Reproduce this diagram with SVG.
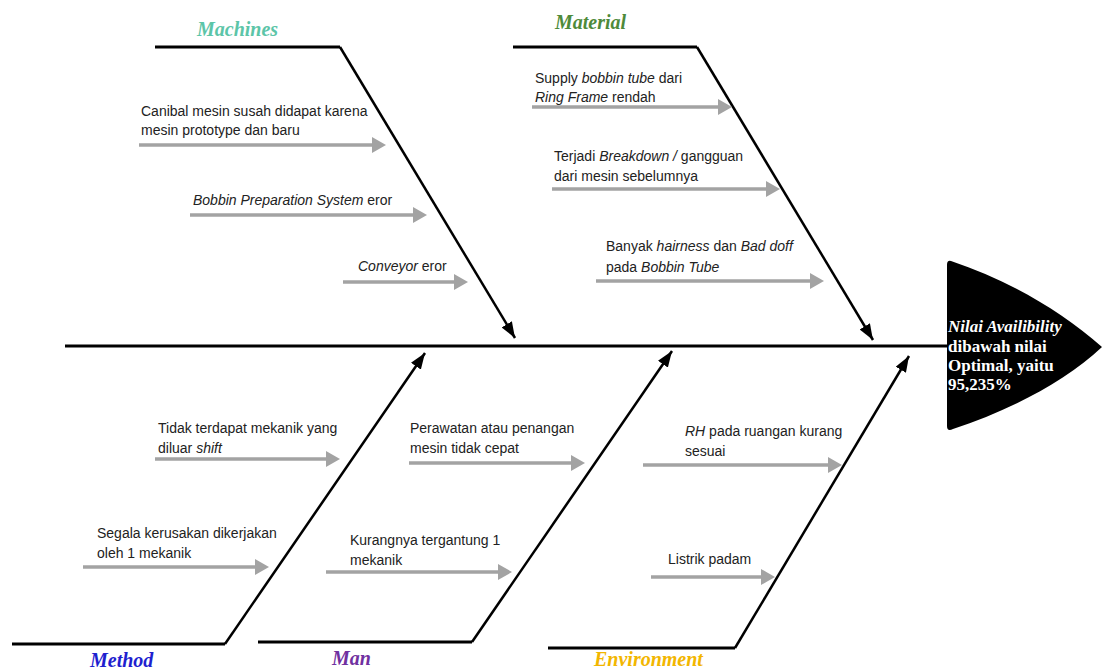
<svg xmlns="http://www.w3.org/2000/svg" width="1102" height="670" viewBox="0 0 1102 670">
<defs>
<style>
.t{font-family:"Liberation Sans",Arial,sans-serif;font-size:14px;fill:#222}
.i{font-style:italic}
.cat{font-family:"Liberation Serif","Times New Roman",serif;font-size:20px;font-weight:bold;font-style:italic}
.bone{stroke:#000;stroke-width:3;fill:none}
.rib{stroke:#000;stroke-width:2.5;fill:none;marker-end:url(#ah)}
.cause{stroke:#a3a3a3;stroke-width:3.5;fill:none;marker-end:url(#gh)}
.head{font-family:"Liberation Serif","Times New Roman",serif;font-size:17px;font-weight:bold;fill:#fff}
</style>
<marker id="ah" viewBox="0 0 16 12" refX="16" refY="6" markerWidth="16" markerHeight="12" markerUnits="userSpaceOnUse" orient="auto">
<path d="M0,0 L16,6 L0,12 z" fill="#000"/>
</marker>
<marker id="gh" viewBox="0 0 14 16" refX="10" refY="8" markerWidth="14" markerHeight="16" markerUnits="userSpaceOnUse" orient="auto">
<path d="M0,0 L14,8 L0,16 z" fill="#a3a3a3"/>
</marker>
</defs>
<rect width="1102" height="670" fill="#fff"/>

<g id="connectors">
<line class="bone" x1="65" y1="346" x2="948" y2="346"/>
<polyline class="bone" points="155,47 340,47"/>
<line class="rib" x1="340" y1="47" x2="515" y2="338"/>
<polyline class="bone" points="513,47 697,47"/>
<line class="rib" x1="697" y1="47" x2="873" y2="340"/>
<polyline class="bone" points="12,644 225,644"/>
<line class="rib" x1="225" y1="644" x2="425" y2="353"/>
<polyline class="bone" points="258,642 472,642"/>
<line class="rib" x1="472" y1="642" x2="672" y2="351"/>
<polyline class="bone" points="548,648 735,648"/>
<line class="rib" x1="735" y1="648" x2="909" y2="356"/>
<line class="cause" x1="139" y1="145" x2="382" y2="145"/>
<line class="cause" x1="190" y1="215" x2="423" y2="215"/>
<line class="cause" x1="343" y1="282" x2="464" y2="282"/>
<line class="cause" x1="532" y1="107" x2="728" y2="107"/>
<line class="cause" x1="552" y1="189" x2="776" y2="189"/>
<line class="cause" x1="596" y1="281" x2="820" y2="281"/>
<line class="cause" x1="155" y1="459" x2="336" y2="459"/>
<line class="cause" x1="83" y1="567" x2="265" y2="567"/>
<line class="cause" x1="409" y1="463" x2="581" y2="463"/>
<line class="cause" x1="326" y1="572" x2="508" y2="572"/>
<line class="cause" x1="643" y1="465" x2="838" y2="465"/>
<line class="cause" x1="651" y1="577" x2="771" y2="577"/>
</g>

<g id="head">
<path d="M951,261 Q947,260 947,265 L947,426 Q947,432 953,429 C1010,410 1065,382 1102,347 C1060,310 1008,280 951,261 Z" fill="#000"/>
<text class="head" x="948" y="332" font-style="italic">Nilai Availibility</text>
<text class="head" x="948" y="352">dibawah nilai</text>
<text class="head" x="948" y="371">Optimal, yaitu</text>
<text class="head" x="948" y="390">95,235%</text>
</g>

<g id="machines">
<text class="cat" x="197" y="36" fill="#5cc5a8">Machines</text>
</g>
<g id="machines-c1"><text class="t" x="141" y="116">Canibal mesin susah didapat karena</text><text class="t" x="141" y="135">mesin prototype dan baru</text></g>
<g id="machines-c2"><text class="t" x="193" y="205"><tspan class="i">Bobbin Preparation System</tspan> eror</text></g>
<g id="machines-c3"><text class="t" x="358" y="271"><tspan class="i">Conveyor</tspan> eror</text></g>

<g id="material">
<text class="cat" x="555" y="29" fill="#4e8a3a">Material</text>
</g>
<g id="material-c1"><text class="t" x="535" y="83">Supply <tspan class="i">bobbin tube</tspan> dari</text><text class="t" x="535" y="102"><tspan class="i">Ring Frame</tspan> rendah</text></g>
<g id="material-c2"><text class="t" x="554" y="161">Terjadi <tspan class="i">Breakdown /</tspan> gangguan</text><text class="t" x="554" y="181">dari mesin sebelumnya</text></g>
<g id="material-c3"><text class="t" x="606" y="251">Banyak <tspan class="i">hairness</tspan> dan <tspan class="i">Bad doff</tspan></text><text class="t" x="606" y="272">pada <tspan class="i">Bobbin Tube</tspan></text></g>

<g id="method">
<text class="cat" x="90" y="667" fill="#1f1fcf">Method</text>
</g>
<g id="method-c1"><text class="t" x="158" y="433">Tidak terdapat mekanik yang</text><text class="t" x="158" y="453">diluar <tspan class="i">shift</tspan></text></g>
<g id="method-c2"><text class="t" x="97" y="538">Segala kerusakan dikerjakan</text><text class="t" x="97" y="558">oleh 1 mekanik</text></g>

<g id="man">
<text class="cat" x="332" y="665" fill="#7030a0">Man</text>
</g>
<g id="man-c1"><text class="t" x="410" y="433">Perawatan atau penangan</text><text class="t" x="410" y="453">mesin tidak cepat</text></g>
<g id="man-c2"><text class="t" x="350" y="545">Kurangnya tergantung 1</text><text class="t" x="350" y="565">mekanik</text></g>

<g id="environment">
<text class="cat" x="594" y="666" fill="#f2b600">Environment</text>
</g>
<g id="environment-c1"><text class="t" x="685" y="436"><tspan class="i">RH</tspan> pada ruangan kurang</text><text class="t" x="685" y="456">sesuai</text></g>
<g id="environment-c2"><text class="t" x="668" y="564">Listrik padam</text></g>
</svg>
